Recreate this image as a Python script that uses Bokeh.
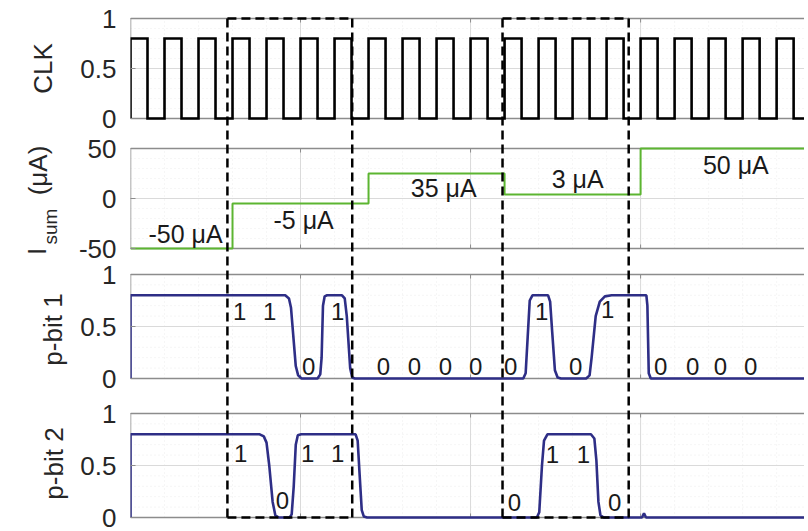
from math import pi
from bokeh.plotting import figure
from bokeh.layouts import row
from bokeh.models import FixedTicker, Range1d
from bokeh.core.properties import value
from bokeh.embed import file_html
from bokeh.resources import INLINE

FONT = "Liberation Sans"

# ---------------- data (time in clock cycles) ----------------
x_end = 19.82

clk_rise = [0, 1, 2, 3, 4, 5, 6, 7, 8, 9, 10, 11, 12, 13, 14, 15, 16, 17, 18, 19]
clk_fall = [0.5, 1.5, 2.5, 3.5, 4.5, 5.5, 6.5, 7.5, 8.5, 9.5, 10.5, 11.5, 12.5,
            13.5, 14.5, 15.5, 16.5, 17.5, 18.5, 19.5]
clk_high = 0.8

isum_steps = [3, 7, 11, 15]
isum_levels = [-50, -5, 25, 4, 50]
isum_labels = ["-50 μA", "-5 μA", "35 μA", "3 μA", "50 μA"]
isum_label_x = [1.62, 5.09, 9.21, 13.15, 17.8]
isum_label_y = [-35, -21, 11, 20, 34]

pbit1_x = [0, 0, 4.55, 4.66, 4.72, 4.86, 4.93, 5.03, 5.5, 5.58, 5.62, 5.66, 5.71, 5.78,
           6.22, 6.3, 6.36, 6.46, 6.52, 6.6, 11.55, 11.62, 11.68, 11.74, 11.82,
           12.28, 12.34, 12.4, 12.48, 12.56, 12.66, 13.4, 13.5, 13.56, 13.68, 13.8,
           13.95, 14.15, 15.17, 15.2, 15.24, 15.3, x_end]
pbit1_v = [0, 0.8, 0.8, 0.77, 0.68, 0.12, 0.03, 0, 0, 0.04, 0.2, 0.7, 0.79, 0.8,
           0.8, 0.77, 0.6, 0.1, 0.01, 0, 0, 0.05, 0.4, 0.75, 0.8,
           0.8, 0.74, 0.45, 0.08, 0.01, 0, 0, 0.03, 0.2, 0.6, 0.74,
           0.79, 0.8, 0.8, 0.7, 0.05, 0, 0]
pbit1_bits = ["1", "1", "0", "1", "0", "0", "0", "0", "0", "1", "0", "1", "0", "0", "0", "0"]
pbit1_bit_x = [3.21, 4.09, 5.24, 6.09, 7.44, 8.35, 9.26, 10.15, 11.18, 12.09, 13.09,
               14.03, 15.59, 16.53, 17.35, 18.24]
pbit1_bit_v = [0.64, 0.64, 0.12, 0.64, 0.12, 0.12, 0.12, 0.12, 0.12, 0.64, 0.12,
               0.66, 0.12, 0.12, 0.12, 0.12]

pbit2_x = [0, 0, 3.8, 3.92, 4.0, 4.08, 4.18, 4.26, 4.36, 4.68, 4.74, 4.8, 4.86, 4.92,
           5.02, 6.62, 6.68, 6.74, 6.8, 6.86, 6.96, 11.95, 12.02, 12.1, 12.16, 12.26,
           13.54, 13.64, 13.7, 13.76, 13.82, 13.92, 15.04, 15.1, 15.16, x_end]
pbit2_v = [0, 0.8, 0.8, 0.78, 0.72, 0.5, 0.15, 0.02, 0, 0, 0.03, 0.3, 0.7, 0.79,
           0.8, 0.8, 0.74, 0.4, 0.07, 0.01, 0, 0, 0.05, 0.5, 0.74, 0.8,
           0.8, 0.76, 0.55, 0.15, 0.02, 0, 0, 0.04, 0, 0]
pbit2_bits = ["1", "0", "1", "1", "0", "1", "1", "0"]
pbit2_bit_x = [3.24, 4.47, 5.21, 6.09, 11.29, 12.41, 13.32, 14.24]
pbit2_bit_v = [0.62, 0.16, 0.62, 0.62, 0.14, 0.61, 0.61, 0.14]

box_left = [2.85, 10.94]
box_right = [6.52, 14.65]

# ---------------- panel layout ----------------
panels = {
    "clk":  dict(y0=399, h=100, vmin=0, vmax=1, ticks=[0, 0.5, 1], labels=["0", "0.5", "1"], minor=0.1),
    "isum": dict(y0=269, h=100, vmin=-50, vmax=50, ticks=[-50, 0, 50], labels=["-50", "0", "50"], minor=10),
    "p1":   dict(y0=139, h=104, vmin=0, vmax=1, ticks=[0, 0.5, 1], labels=["0", "0.5", "1"], minor=0.1),
    "p2":   dict(y0=0, h=104, vmin=0, vmax=1, ticks=[0, 0.5, 1], labels=["0", "0.5", "1"], minor=0.1),
}


def Y(name, v):
    P = panels[name]
    return P["y0"] + (v - P["vmin"]) / (P["vmax"] - P["vmin"]) * P["h"]


def Ys(name, vals):
    return [Y(name, v) for v in vals]


H = 531
BT, BB = 16, 11
y_range = Range1d(-3, 501)
LAB_W = 72

p = figure(width=804 - LAB_W, height=H, output_backend="svg", toolbar_location=None,
           x_range=Range1d(0, x_end), y_range=y_range,
           min_border_left=130 - LAB_W, min_border_right=0, min_border_top=BT,
           min_border_bottom=BB)
p.outline_line_color = None
p.xaxis.visible = False
p.xgrid.visible = False
p.ygrid.visible = False
p.background_fill_color = "white"

# y axis: ticks of all panels
ticks, overrides = [], {}
for name, P in panels.items():
    for t, lab in zip(P["ticks"], P["labels"]):
        yy = int(round(Y(name, t)))
        ticks.append(yy)
        overrides[yy] = lab
p.yaxis.ticker = FixedTicker(ticks=sorted(ticks))
p.yaxis.major_label_overrides = overrides
p.yaxis.axis_line_color = None
p.yaxis.major_tick_in = 5
p.yaxis.major_tick_out = 0
p.yaxis.major_tick_line_color = "#8c8c8c"
p.yaxis.minor_tick_line_color = None
p.yaxis.major_label_standoff = 14
p.yaxis.major_label_text_font = FONT
p.yaxis.major_label_text_font_size = "26px"
p.yaxis.major_label_text_color = "#262626"

GRID_MAJ = "#dadada"
GRID_MIN = "#ececec"
BORDER = "#8c8c8c"
x_major = [5, 10, 15]
x_minor = [k for k in range(1, 20) if k % 5 != 0]

for name, P in panels.items():
    lo, hi = P["y0"], P["y0"] + P["h"]
    ys_minor = []
    v = P["vmin"] + P["minor"]
    while v < P["vmax"] - 1e-9:
        ys_minor.append(Y(name, v))
        v += P["minor"]
    p.segment(x0=0, x1=x_end, y0=ys_minor, y1=ys_minor, line_color=GRID_MIN,
              line_width=1, line_dash="1 3")
    p.segment(x0=x_minor, x1=x_minor, y0=lo, y1=hi, line_color=GRID_MIN,
              line_width=1, line_dash="1 3")
    mid = Y(name, P["ticks"][1])
    p.segment(x0=0, x1=x_end, y0=mid, y1=mid, line_color=GRID_MAJ, line_width=1)
    p.segment(x0=x_major, x1=x_major, y0=lo, y1=hi, line_color=GRID_MAJ, line_width=1)
    p.segment(x0=x_major, x1=x_major, y0=lo, y1=lo + 4, line_color=BORDER, line_width=1)
    p.segment(x0=x_major, x1=x_major, y0=hi - 4, y1=hi, line_color=BORDER, line_width=1)
    p.segment(x0=[0, 0, 0], x1=[x_end, x_end, 0], y0=[lo, hi, lo], y1=[lo, hi, hi],
              line_color=BORDER, line_width=1.5)

# CLK
cx, cy = [], []
for r, f in zip(clk_rise, clk_fall):
    cx += [r, r, f, f]
    cy += [0, clk_high, clk_high, 0]
cx.append(x_end)
cy.append(0)
p.line(cx, Ys("clk", cy), line_color="black", line_width=2.6, line_join="miter")

# I_sum
ix, iy = [0], [isum_levels[0]]
for s, a, b in zip(isum_steps, isum_levels[:-1], isum_levels[1:]):
    ix += [s, s]
    iy += [a, b]
ix.append(x_end)
iy.append(isum_levels[-1])
p.line(ix, Ys("isum", iy), line_color="#5cb531", line_width=2)

# p-bits
p.line(pbit1_x, Ys("p1", pbit1_v), line_color="#2e2e86", line_width=2.6)
p.line(pbit2_x, Ys("p2", pbit2_v), line_color="#2e2e86", line_width=2.6)

# dashed boxes
btm, top = Y("p2", 0), Y("clk", 1)
for a, b in zip(box_left, box_right):
    p.multi_line(xs=[[a, a], [b, b], [a, b], [a, b]],
                 ys=[[btm, top], [btm, top], [top, top], [btm, btm]],
                 line_color="black", line_width=2.5, line_dash="9 5")

# texts inside panels
TXT = dict(text_font=value(FONT), text_align="center", text_baseline="middle",
           text_color="#1a1a1a")
p.text(x=isum_label_x, y=Ys("isum", isum_label_y), text=isum_labels,
       text_font_size=value("25px"), **TXT)
p.text(x=pbit1_bit_x, y=Ys("p1", pbit1_bit_v), text=pbit1_bits,
       text_font_size=value("24px"), **TXT)
p.text(x=pbit2_bit_x, y=Ys("p2", pbit2_bit_v), text=pbit2_bits,
       text_font_size=value("24px"), **TXT)

# ---------------- y-axis titles in a narrow strip on the left ----------------
lab = figure(width=LAB_W, height=H, output_backend="svg", toolbar_location=None,
             x_range=Range1d(0, LAB_W), y_range=y_range,
             x_axis_type=None, y_axis_type=None,
             min_border_left=0, min_border_right=0, min_border_top=BT, min_border_bottom=BB)
lab.outline_line_color = None
lab.xgrid.visible = False
lab.ygrid.visible = False

title_text = ["CLK", "I", "(μA)", "p-bit 1", "p-bit 2"]
title_x = [42, 36, 37, 52, 53]
title_y = [Y("clk", 0.5), 266, 347, 188, 54]
lab.text(x=title_x, y=title_y, text=title_text, angle=pi / 2,
         text_font=value(FONT), text_font_size=value("26px"), text_align="center",
         text_baseline="middle", text_color="#262626")
lab.text(x=[50], y=[291], text=["sum"], angle=pi / 2,
         text_font=value(FONT), text_font_size=value("19px"), text_align="center",
         text_baseline="middle", text_color="#262626")

layout = row(lab, p, spacing=0)
open("out.html", "w").write(file_html(layout, INLINE))
